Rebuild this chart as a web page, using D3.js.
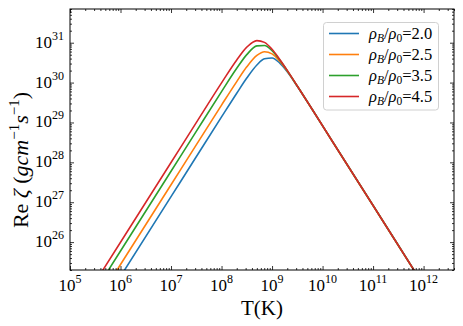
<!DOCTYPE html>
<html>
<head>
<meta charset="utf-8">
<script src="https://cdn.jsdelivr.net/npm/d3@7"></script>
<style>
  html, body { margin: 0; padding: 0; background: #fff; }
  svg { display: block; font-family: "Liberation Serif", "Times New Roman", serif; }
</style>
</head>
<body>
<svg id="chart" width="463" height="326"></svg>
<script>
// ---- data ----
const temperatures = [3.16e5, 1e6, 1e7, 3.16e7, 1e8, 2e8, 3.16e8, 5.01e8, 7.08e8, 1e9, 1.41e9, 2e9, 3.16e9, 6.31e9, 1.58e10, 1e11, 1e12, 4e12];
const zetaRho20 = [1.38e24, 1.38e25, 1.38e27, 1.38e28, 1.377e29, 5.41e29, 1.30e30, 2.77e30, 3.96e30, 4.15e30, 3.12e30, 1.87e30, 8.09e29, 2.08e29, 3.31e28, 8.32e26, 8.32e24, 5.25e23];
const zetaRho25 = [2.74e24, 2.74e25, 2.74e27, 2.74e28, 2.73e29, 1.06e30, 2.48e30, 4.80e30, 5.94e30, 5.24e30, 3.46e30, 1.94e30, 8.13e29, 2.07e29, 3.29e28, 8.26e26, 8.26e24, 5.21e23];
const zetaRho35 = [5.98e24, 5.98e25, 5.98e27, 5.98e28, 5.94e29, 2.28e30, 5.02e30, 8.34e30, 8.53e30, 6.30e30, 3.73e30, 2.00e30, 8.19e29, 2.08e29, 3.29e28, 8.26e26, 8.26e24, 5.21e23];
const zetaRho45 = [9.93e24, 9.93e25, 9.93e27, 9.93e28, 9.84e29, 3.70e30, 7.75e30, 1.13e31, 1.02e31, 6.82e30, 3.86e30, 2.02e30, 8.20e29, 2.08e29, 3.29e28, 8.26e26, 8.26e24, 5.21e23];
const densityRatios = ["2.0", "2.5", "3.5", "4.5"];
const seriesValues = [zetaRho20, zetaRho25, zetaRho35, zetaRho45];
const seriesColors = ["#1f77b4", "#ff7f0e", "#2ca02c", "#d62728"];
const xTickExponents = [5, 6, 7, 8, 9, 10, 11, 12];
const yTickExponents = [26, 27, 28, 29, 30, 31];
const xDomain = [1e5, 4e12];
const yDomain = [2e25, 7e31];

// ---- layout ----
const svg = d3.select("#chart");
const L = 70, R = 454, T = 9, B = 270;

const x = d3.scaleLog().domain(xDomain).range([L, R]);
const y = d3.scaleLog().domain(yDomain).range([B, T]);

function minorTicks(domain) {
  const out = [];
  const lo = Math.floor(Math.log10(domain[0])), hi = Math.ceil(Math.log10(domain[1]));
  for (let e = lo; e <= hi; e++) {
    for (let m = 2; m <= 9; m++) {
      const v = m * Math.pow(10, e);
      if (v >= domain[0] && v <= domain[1]) out.push(v);
    }
  }
  return out;
}
const xMajors = xTickExponents.map(e => Math.pow(10, e));
const yMajors = yTickExponents.map(e => Math.pow(10, e));
const xMinors = minorTicks(xDomain);
const yMinors = minorTicks(yDomain);

// clip
svg.append("clipPath").attr("id", "clip")
  .append("rect").attr("x", L).attr("y", T).attr("width", R - L).attr("height", B - T);

// curves
const line = d3.line()
  .x(d => x(d[0]))
  .y(d => y(d[1]))
  .curve(d3.curveMonotoneX);

const plot = svg.append("g").attr("clip-path", "url(#clip)");
seriesValues.forEach((vals, i) => {
  plot.append("path")
    .datum(temperatures.map((t, j) => [t, vals[j]]))
    .attr("fill", "none")
    .attr("stroke", seriesColors[i])
    .attr("stroke-width", 1.6)
    .attr("d", line);
});

// axes (inward ticks on all sides)
function styleAxis(g) {
  g.select(".domain").remove();
  g.selectAll(".tick line").attr("stroke", "#000").attr("stroke-width", 0.8);
}
const axes = [
  [d3.axisBottom, x, B, true], [d3.axisTop, x, T, true],
  [d3.axisLeft, y, L, false], [d3.axisRight, y, R, false]
];
axes.forEach(([fn, sc, pos, horiz]) => {
  const majors = horiz ? xMajors : yMajors;
  const minors = horiz ? xMinors : yMinors;
  const tr = horiz ? `translate(0,${pos})` : `translate(${pos},0)`;
  // negative tick size points ticks into the plot area
  svg.append("g").attr("transform", tr)
    .call(fn(sc).tickValues(majors).tickSize(-4).tickFormat(""))
    .call(styleAxis);
  svg.append("g").attr("transform", tr)
    .call(fn(sc).tickValues(minors).tickSize(-2).tickFormat(""))
    .call(styleAxis);
});

// frame
svg.append("rect").attr("x", L).attr("y", T).attr("width", R - L).attr("height", B - T)
  .attr("fill", "none").attr("stroke", "#000").attr("stroke-width", 1);

// tick labels
xTickExponents.forEach(e => {
  const t = svg.append("text").attr("x", x(Math.pow(10, e))).attr("y", 291)
    .attr("text-anchor", "middle").attr("font-size", 17).attr("fill", "#000");
  t.append("tspan").text("10");
  t.append("tspan").attr("dy", -8).attr("font-size", 12).text(e);
});
yTickExponents.forEach(e => {
  const t = svg.append("text").attr("x", 64).attr("y", y(Math.pow(10, e)) + 5)
    .attr("text-anchor", "end").attr("font-size", 17).attr("fill", "#000");
  t.append("tspan").text("10");
  t.append("tspan").attr("dy", -8).attr("font-size", 12).text(e);
});

// axis titles
svg.append("text").attr("x", (L + R) / 2).attr("y", 315).attr("text-anchor", "middle")
  .attr("font-size", 21).attr("fill", "#000").text("T(K)");

const yl = svg.append("text").attr("transform", "translate(28,160) rotate(-90)")
  .attr("text-anchor", "middle").attr("font-size", 22).attr("fill", "#000");
yl.append("tspan").text("Re ");
yl.append("tspan").attr("font-style", "italic").text("ζ ");
yl.append("tspan").text("(");
yl.append("tspan").attr("font-style", "italic").text("gcm");
yl.append("tspan").attr("dy", -9).attr("font-size", 15).text("−1");
yl.append("tspan").attr("dy", 9).attr("font-style", "italic").text("s");
yl.append("tspan").attr("dy", -9).attr("font-size", 15).text("−1");
yl.append("tspan").attr("dy", 9).text(")");

// legend
const lg = svg.append("g");
lg.append("rect").attr("x", 323.5).attr("y", 22.5).attr("width", 115).attr("height", 87.5)
  .attr("rx", 3).attr("fill", "#fff").attr("fill-opacity", 0.8)
  .attr("stroke", "#d0d0d0").attr("stroke-width", 1);
densityRatios.forEach((r, i) => {
  const yy = 33.5 + i * 21;
  lg.append("line").attr("x1", 329).attr("x2", 359).attr("y1", yy).attr("y2", yy)
    .attr("stroke", seriesColors[i]).attr("stroke-width", 1.6);
  const t = lg.append("text").attr("x", 369).attr("y", yy + 5.5).attr("font-size", 16.5).attr("fill", "#000");
  t.append("tspan").attr("font-style", "italic").text("ρ");
  t.append("tspan").attr("font-style", "italic").attr("font-size", 11.5).attr("dy", 3).text("B");
  t.append("tspan").attr("dy", -3).text("/");
  t.append("tspan").attr("font-style", "italic").text("ρ");
  t.append("tspan").attr("font-size", 11.5).attr("dy", 3).text("0");
  t.append("tspan").attr("dy", -3).text("=" + r);
});
</script>
</body>
</html>
